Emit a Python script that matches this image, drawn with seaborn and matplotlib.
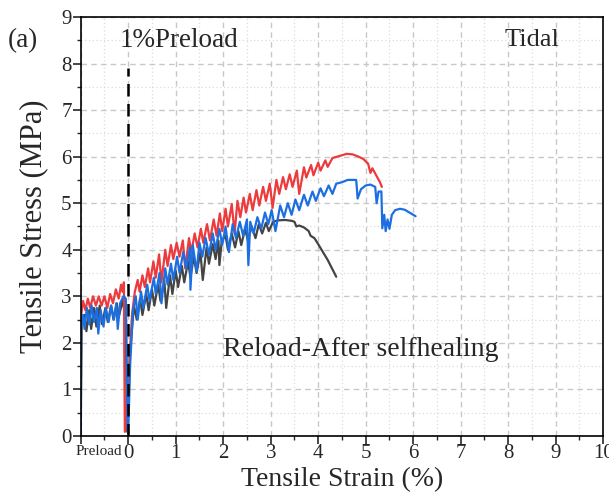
import numpy as np
import pandas as pd
import seaborn as sns
import matplotlib.pyplot as plt
from matplotlib import font_manager
from matplotlib.ticker import MultipleLocator
from matplotlib.transforms import blended_transform_factory

# strain (%) / stress (MPa)
grey_x = [-1.0, -0.98, -0.92, -0.88, -0.82, -0.78, -0.72, -0.67, -0.6, -0.55, -0.48, -0.43,
          -0.36, -0.31, -0.24, -0.2, -0.12, -0.08, -0.05, -0.04, -0.03,
          -0.02, 0.04, 0.12, 0.18, 0.25, 0.3, 0.38, 0.43, 0.5, 0.55, 0.63, 0.68, 0.76, 0.8,
          0.88, 0.93, 1.0, 1.05, 1.13, 1.18, 1.26, 1.31, 1.38, 1.44, 1.52, 1.57, 1.65, 1.7,
          1.78, 1.84, 1.9, 1.92, 1.97, 2.05, 2.1, 2.18, 2.25, 2.32, 2.38, 2.46, 2.52, 2.6,
          2.68, 2.75, 2.82, 2.9, 2.96, 3.05, 3.15, 3.3, 3.45, 3.5, 3.54, 3.6, 3.7, 3.8,
          3.84, 3.92, 4.0, 4.1, 4.2, 4.3, 4.38]
grey_y = [0.0, 2.4, 2.6, 2.25, 2.7, 2.3, 2.75, 2.35, 2.8, 2.4, 2.75, 2.45,
          2.8, 2.5, 2.85, 2.55, 2.9, 2.7, 2.85, 1.5, 0.1,
          0.1, 1.8, 2.8, 2.5, 2.95, 2.6, 3.05, 2.7, 3.15, 2.8, 3.25, 2.9, 3.35, 2.75,
          3.45, 3.05, 3.55, 3.2, 3.65, 3.3, 3.75, 3.4, 3.85, 3.5, 3.95, 3.35, 4.05, 3.7,
          4.12, 3.8, 4.2, 3.67, 4.2, 4.3, 4.0, 4.35, 4.05, 4.4, 4.1, 4.45, 4.2, 4.5,
          4.25, 4.55, 4.35, 4.58, 4.4, 4.6, 4.63, 4.64, 4.62, 4.6, 4.5, 4.52, 4.48, 4.4,
          4.3, 4.25, 4.12, 3.95, 3.78, 3.58, 3.42]

red_x = [-1.0, -0.99, -0.95, -0.9, -0.85, -0.8, -0.74, -0.68, -0.62, -0.56, -0.5, -0.44,
         -0.38, -0.32, -0.26, -0.2, -0.15, -0.12, -0.09, -0.08, -0.07,
         -0.06, 0.02, 0.08, 0.14, 0.2, 0.24, 0.3, 0.35, 0.42, 0.46, 0.53, 0.58, 0.65, 0.7,
         0.78, 0.83, 0.9, 0.95, 1.02, 1.08, 1.15, 1.2, 1.28, 1.33, 1.4, 1.46, 1.53, 1.58,
         1.66, 1.72, 1.8, 1.86, 1.93, 1.98, 2.05, 2.1, 2.18, 2.24, 2.3, 2.36, 2.43, 2.48,
         2.56, 2.62, 2.7, 2.76, 2.84, 2.9, 2.98, 3.04, 3.12, 3.18, 3.26, 3.32, 3.4, 3.46,
         3.55, 3.6, 3.7, 3.75, 3.85, 3.9, 4.0, 4.05, 4.15, 4.2, 4.3, 4.4, 4.5, 4.6, 4.72,
         4.85, 4.95, 5.05, 5.1, 5.14, 5.22, 5.3, 5.34]
red_y = [0.0, 2.6, 2.9, 2.7, 2.95, 2.75, 3.0, 2.8, 3.0, 2.8, 3.0, 2.75,
         3.05, 2.85, 3.15, 2.95, 3.25, 3.1, 3.3, 1.5, 0.09,
         0.1, 1.5, 2.6, 3.1, 3.35, 3.1, 3.45, 3.2, 3.6, 3.3, 3.75, 3.4, 3.9, 3.3,
         4.0, 3.65, 4.1, 3.8, 4.15, 3.85, 4.2, 3.6, 4.25, 3.95, 4.35, 4.05, 4.45, 4.15,
         4.55, 4.2, 4.65, 4.3, 4.78, 4.4, 4.88, 4.5, 4.98, 4.35, 5.05, 4.7, 5.12, 4.8,
         5.2, 4.85, 5.28, 4.95, 5.35, 5.05, 5.42, 4.9, 5.5, 5.2, 5.56, 5.3, 5.62, 5.35,
         5.7, 5.2, 5.77, 5.55, 5.82, 5.6, 5.87, 5.7, 5.92, 5.78, 5.97, 6.0, 6.03, 6.06, 6.05,
         6.0, 5.95, 5.85, 5.65, 5.75, 5.6, 5.45, 5.35]

blue_x = [-1.0, -0.99, -0.95, -0.92, -0.87, -0.82, -0.77, -0.72, -0.66, -0.63, -0.58, -0.52,
          -0.47, -0.41, -0.36, -0.3, -0.25, -0.22, -0.17, -0.1, -0.05, -0.03, -0.01,
          0.0, 0.04, 0.1, 0.16, 0.2, 0.27, 0.32, 0.4, 0.45, 0.54, 0.58, 0.66, 0.7, 0.78,
          0.83, 0.9, 0.95, 1.03, 1.08, 1.16, 1.22, 1.3, 1.31, 1.36, 1.44, 1.5, 1.56, 1.63,
          1.7, 1.78, 1.84, 1.92, 1.98, 2.05, 2.12, 2.2, 2.27, 2.35, 2.42, 2.5, 2.53, 2.57,
          2.64, 2.72, 2.8, 2.88, 2.95, 3.02, 3.1, 3.2, 3.28, 3.36, 3.44, 3.52, 3.6, 3.7,
          3.78, 3.88, 3.95, 4.05, 4.12, 4.22, 4.3, 4.38, 4.5, 4.62, 4.75, 4.8, 4.83, 4.9,
          5.0, 5.1, 5.2, 5.23, 5.27, 5.33, 5.35, 5.39, 5.42, 5.46, 5.5, 5.55, 5.62, 5.72,
          5.82, 5.92, 6.05]
blue_y = [0.0, 2.4, 2.6, 2.3, 2.75, 2.4, 2.8, 2.45, 2.75, 2.2, 2.7, 2.35,
          2.75, 2.45, 2.8, 2.5, 2.85, 2.3, 2.85, 3.0, 2.95, 1.5, 0.1,
          0.05, 1.5, 2.7, 3.0, 2.5, 3.1, 2.75, 3.25, 2.9, 3.4, 3.05, 3.5, 2.85, 3.6,
          3.25, 3.7, 3.35, 3.85, 3.5, 3.95, 3.6, 4.05, 3.14, 4.1, 3.53, 4.15, 3.85, 4.25,
          3.9, 4.35, 4.0, 4.45, 4.1, 4.5, 3.95, 4.55, 4.25, 4.6, 4.3, 4.65, 3.67, 4.6,
          4.35, 4.7, 4.45, 4.8, 4.55, 4.85, 4.4, 4.95, 4.7, 5.0, 4.75, 5.08, 4.85, 5.18,
          4.95, 5.25, 5.05, 5.32, 5.15, 5.38, 5.2, 5.42, 5.45, 5.5, 5.5, 5.5, 5.1, 5.3,
          5.38, 5.4, 5.35, 5.0, 5.25, 5.25, 4.46, 4.75, 4.4, 4.65, 4.45, 4.75, 4.85, 4.88,
          4.86, 4.8, 4.72]

sns.set_style("white")

# Times-like serif: pick whichever is actually installed
available = {f.name for f in font_manager.fontManager.ttflist}
serif = next((n for n in ['Liberation Serif', 'Times New Roman', 'Nimbus Roman',
                          'STIXGeneral', 'DejaVu Serif'] if n in available), 'serif')
plt.rcParams['font.family'] = [serif, 'DejaVu Serif']

fig = plt.figure(figsize=(6.09, 4.99), dpi=100)
ax = fig.add_axes([0.1325, 0.1263, 0.858, 0.8397])

ax.xaxis.set_major_locator(MultipleLocator(1))
ax.xaxis.set_minor_locator(MultipleLocator(0.5))
ax.yaxis.set_major_locator(MultipleLocator(1))
ax.yaxis.set_minor_locator(MultipleLocator(0.5))
ax.grid(which='major', color='#c8c8c8', linestyle=(0, (4, 3)), linewidth=1.0)
ax.grid(which='minor', color='#dcdcdc', linestyle=(0, (1, 2)), linewidth=0.9)
ax.set_axisbelow(True)

curves = [("grey", grey_x, grey_y, "#444444"),
          ("red", red_x, red_y, "#ec3a3d"),
          ("blue", blue_x, blue_y, "#1c6fe0")]
for name, xs, ys, col in curves:
    d = pd.DataFrame({"strain": xs, "stress": ys})
    sns.lineplot(data=d, x="strain", y="stress", sort=False, estimator=None,
                 color=col, linewidth=1.6, ax=ax)

# preload marker line
ax.plot([0, 0], [0, 7.9], color='black', linestyle=(0, (5, 3)), linewidth=1.8)

ax.set_xlim(-1, 10)
ax.set_ylim(0, 9)
ax.set_xticks(range(-1, 11))
ax.set_xticklabels([""] + [str(i) for i in range(0, 11)])
ax.tick_params(axis='both', which='major', direction='out', length=5.5, width=1.2,
               labelsize=15, bottom=True, left=True, top=False, right=False, pad=1)
ax.tick_params(axis='x', which='major', pad=0)
ax.tick_params(axis='both', which='minor', direction='out', length=3, width=1.0,
               bottom=True, left=True, top=False, right=False)
for s in ax.spines.values():
    s.set_linewidth(1.2)
    s.set_color('black')

trans = blended_transform_factory(ax.transData, ax.transAxes)
ax.text(-0.62, -0.022, "Preload", transform=trans, ha='center', va='top', fontsize=11)

ax.set_xlabel("Tensile Strain (%)", fontsize=20, labelpad=3)
ax.set_ylabel("Tensile Stress (MPa)", fontsize=22, labelpad=9)

ax.text(1.06, 8.5, "1%Preload", ha='center', va='center', fontsize=19.5)
ax.text(8.5, 8.5, "Tidal", ha='center', va='center', fontsize=19)
ax.text(4.9, 1.85, "Reload-After selfhealing", ha='center', va='center', fontsize=20)
fig.text(0.013, 0.918, "(a)", ha='left', va='center', fontsize=19.5)

fig.savefig("out.png", dpi=100)
